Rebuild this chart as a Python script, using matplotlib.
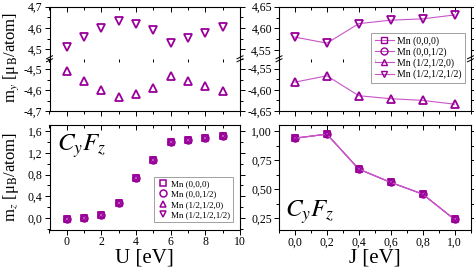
import matplotlib
matplotlib.use("Agg")
import matplotlib.pyplot as plt
from matplotlib.ticker import MultipleLocator, FuncFormatter
from matplotlib.lines import Line2D

plt.rcParams['font.family'] = ['Liberation Serif', 'DejaVu Serif']
plt.rcParams['mathtext.fontset'] = 'stix'

# ---------------- data ----------------
U = [0, 1, 2, 3, 4, 5, 6, 7, 8, 9]
my_U_pos = [4.509, 4.558, 4.600, 4.631, 4.619, 4.589, 4.531, 4.553, 4.575, 4.606]
my_U_neg = [-4.508, -4.556, -4.600, -4.634, -4.619, -4.589, -4.534, -4.556, -4.579, -4.603]
mz_U = [-0.02, 0.00, 0.055, 0.268, 0.733, 1.068, 1.39, 1.43, 1.47, 1.50]

J = [0.0, 0.2, 0.4, 0.6, 0.8, 1.0]
my_J_pos = [4.580, 4.566, 4.611, 4.619, 4.622, 4.631]
my_J_neg = [-4.582, -4.567, -4.614, -4.621, -4.625, -4.634]
mz_J = [0.942, 0.977, 0.675, 0.560, 0.459, 0.240]

labels = ["Mn (0,0,0)", "Mn (0,0,1/2)", "Mn (1/2,1/2,0)", "Mn (1/2,1/2,1/2)"]
markers = ["s", "o", "^", "v"]

MC = '#990099'
LC = '#c855c8'
W, H = 474, 267

fig = plt.figure(figsize=(W / 100, H / 100), dpi=100)


def ax_px(x0, x1, y0, y1):
    return fig.add_axes([x0 / W, 1 - y1 / H, (x1 - x0) / W, (y1 - y0) / H])


def comma_fmt(nd):
    return FuncFormatter(lambda v, p: f"{v:.{nd}f}".replace('.', ','))


LX0, LX1 = 49.5, 240
RX0, RX1 = 279, 470.5
TY0, TB, TY1 = 6.7, 58.8, 111
BY0, BY1 = 125, 229.5

tl_u = ax_px(LX0, LX1, TY0, TB)
tl_l = ax_px(LX0, LX1, TB, TY1)
tr_u = ax_px(RX0, RX1, TY0, TB)
tr_l = ax_px(RX0, RX1, TB, TY1)
bl = ax_px(LX0, LX1, BY0, BY1)
br = ax_px(RX0, RX1, BY0, BY1)

TFS = 8.5
mk = dict(ms=5.5, mew=1.3, mfc='none', mec=MC)

# top-left
tl_u.plot(U, my_U_pos, ls='none', marker='v', **mk)
tl_l.plot(U, my_U_neg, ls='none', marker='^', **mk)
tl_u.set_ylim(4.455, 4.7)
tl_l.set_ylim(-4.7, -4.45)
# top-right
tr_u.plot(J, my_J_pos, color=LC, lw=0.8, marker='v', **mk)
tr_l.plot(J, my_J_neg, color=LC, lw=0.8, marker='^', **mk)
tr_u.set_ylim(4.53, 4.65)
tr_l.set_ylim(-4.65, -4.527)

# bottom panels
for m, lab in zip(markers, labels):
    bl.plot(U, mz_U, ls='none', marker=m, label=lab, ms=5, mew=1.1, mfc='none', mec=MC)
    br.plot(J, mz_J, color=LC, lw=0.8, marker=m, ms=5, mew=1.1, mfc='none', mec=MC)
bl.set_ylim(-0.21, 1.71)
br.set_ylim(0.153, 1.056)

for a in (tl_u, tl_l, bl):
    a.set_xlim(-1, 10)
    a.xaxis.set_major_locator(MultipleLocator(2))
    a.xaxis.set_minor_locator(MultipleLocator(1))
    a.xaxis.set_major_formatter(comma_fmt(0))
for a in (tr_u, tr_l, br):
    a.set_xlim(-0.1, 1.1)
    a.xaxis.set_major_locator(MultipleLocator(0.2))
    a.xaxis.set_minor_locator(MultipleLocator(0.1))
    a.xaxis.set_major_formatter(comma_fmt(1))

for a in (tl_u, tl_l):
    a.yaxis.set_major_locator(MultipleLocator(0.1))
    a.yaxis.set_minor_locator(MultipleLocator(0.05))
    a.yaxis.set_major_formatter(comma_fmt(1))
for a in (tr_u, tr_l):
    a.yaxis.set_major_locator(MultipleLocator(0.05))
    a.yaxis.set_minor_locator(MultipleLocator(0.025))
    a.yaxis.set_major_formatter(comma_fmt(2))
bl.yaxis.set_major_locator(MultipleLocator(0.4))
bl.yaxis.set_minor_locator(MultipleLocator(0.2))
bl.yaxis.set_major_formatter(comma_fmt(1))
br.yaxis.set_major_locator(MultipleLocator(0.25))
br.yaxis.set_minor_locator(MultipleLocator(0.125))
br.yaxis.set_major_formatter(comma_fmt(2))

for a in (tl_u, tl_l, tr_u, tr_l, bl, br):
    a.tick_params(which='both', direction='out', top=True, right=True, labelsize=TFS, pad=1.5, width=0.7)
    a.tick_params(which='major', length=3.5)
    a.tick_params(which='minor', length=2)
    for s in a.spines.values():
        s.set_linewidth(0.8)
    for t in a.xaxis.get_major_ticks() + a.xaxis.get_minor_ticks():
        t.tick2line.set_marker(3)
    for t in a.yaxis.get_major_ticks() + a.yaxis.get_minor_ticks():
        t.tick2line.set_marker(1)

for a in (tl_u, tr_u):
    a.spines['bottom'].set_visible(False)
    a.tick_params(axis='x', bottom=False, labelbottom=False)
for a in (tl_l, tr_l):
    a.spines['top'].set_visible(False)
    a.tick_params(axis='x', top=False, labelbottom=False)

bl.set_xlabel("U [eV]", fontsize=15, labelpad=0)
br.set_xlabel("J [eV]", fontsize=15, labelpad=0)

fig.text(11 / W, 1 - 58 / H, r"m$_y$ [μ$_\mathrm{B}$/atom]", rotation=90,
         ha='center', va='center', fontsize=12)
fig.text(11 / W, 1 - 177 / H, r"m$_z$ [μ$_\mathrm{B}$/atom]", rotation=90,
         ha='center', va='center', fontsize=12)

bl.text(0.04, 0.93, r"$C_yF_z$", transform=bl.transAxes, fontsize=18, va='top', ha='left')
br.text(0.03, 0.3, r"$C_yF_z$", transform=br.transAxes, fontsize=18, va='top', ha='left')

leg = bl.legend(loc='lower right', bbox_to_anchor=(0.963, 0.072), fontsize=6.5,
                frameon=True, fancybox=False, edgecolor='#888888', borderpad=0.35,
                handletextpad=0.3, labelspacing=0.2, handlelength=1.2, borderaxespad=0)
leg.get_frame().set_linewidth(0.7)

handles = [Line2D([], [], color=LC, lw=0.8, marker=m, ms=5, mew=1.0, mfc='none', mec=MC)
           for m in markers]
fl = fig.legend(handles, labels, loc='upper right', bbox_to_anchor=(465 / W, 1 - 33 / H),
                fontsize=7, frameon=True, fancybox=False, edgecolor='#888888',
                borderpad=0.35, handletextpad=0.3, labelspacing=0.15, handlelength=2.0,
                borderaxespad=0)
fl.get_frame().set_linewidth(0.7)

# break marks
for xp in (LX0, LX1, RX0, RX1):
    for dy in (-1.5, 1.5):
        fig.add_artist(Line2D([(xp - 3) / W, (xp + 3) / W],
                              [1 - (TB + dy + 1.5) / H, 1 - (TB + dy - 1.5) / H],
                              color='black', lw=0.7))

fig.savefig("out.png", dpi=100)
